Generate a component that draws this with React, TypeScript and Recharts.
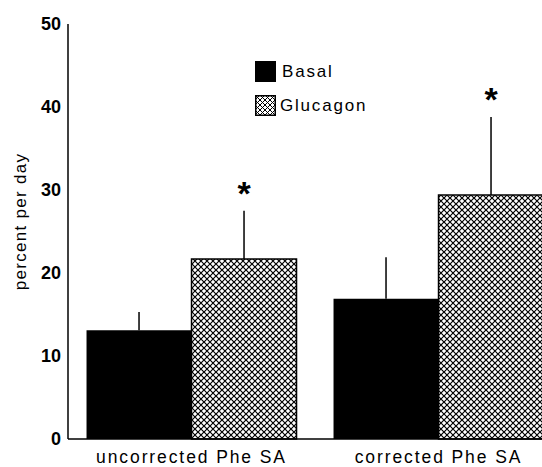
import { Bar, BarChart, ErrorBar, LabelList, XAxis, YAxis } from "recharts";

const categories = ["uncorrected Phe SA", "corrected Phe SA"];
const basal = [13.1, 16.9];
const basalErr = [2.2, 5.0];
const glucagon = [21.7, 29.4];
const glucagonErr = [5.8, 9.4];
const significant = ["*", "*"];
const yTicks = [0, 10, 20, 30, 40, 50];

const data = categories.map((name, i) => ({
  name,
  basal: basal[i],
  basalErr: [0, basalErr[i]],
  glucagon: glucagon[i],
  glucagonErr: [0, glucagonErr[i]],
  glucagonUp: glucagonErr[i],
  sig: significant[i],
}));

const font = '"Liberation Sans", Arial, Helvetica, sans-serif';

function Asterisk(props: any) {
  const { x, y, width, height, index } = props;
  const d = data[index];
  const pxPerUnit = height / d.glucagon;
  const top = y - d.glucagonUp * pxPerUnit;
  return (
    <text
      x={x + width / 2}
      y={top - 6}
      textAnchor="middle"
      fontSize={34}
      fontWeight="bold"
      fontFamily={font}
      fill="#000"
    >
      {d.sig}
    </text>
  );
}

export default function App() {
  return (
    <div
      style={{
        position: "fixed",
        left: 0,
        top: 0,
        width: 542,
        height: 467,
        overflow: "hidden",
        background: "#fff",
        fontFamily: font,
      }}
    >
      <BarChart
        width={600}
        height={467}
        data={data}
        margin={{ top: 24, right: 38, left: 0, bottom: 0 }}
        barCategoryGap="7.5%"
        barGap={0}
      >
        <defs>
          <pattern id="xhatch" patternUnits="userSpaceOnUse" width={6} height={6}>
            <rect width={6} height={6} fill="#fff" />
            <path d="M0,0 L6,6 M0,6 L6,0" stroke="#000" strokeWidth={1.2} />
          </pattern>
        </defs>
        <XAxis
          dataKey="name"
          height={28}
          axisLine={{ stroke: "#000", strokeWidth: 1.5 }}
          tickLine={false}
          tickSize={0}
          tickMargin={12}
          tick={{ fontSize: 17.5, fill: "#000", fontFamily: font, letterSpacing: 1.9 }}
        />
        <YAxis
          width={68}
          domain={[0, 50]}
          ticks={yTicks}
          axisLine={{ stroke: "#000", strokeWidth: 1.5 }}
          tickLine={false}
          tickSize={0}
          tickMargin={7}
          tick={{ fontSize: 18, fill: "#000", fontFamily: font, fontWeight: 600 }}
          label={{
            value: "percent per day",
            angle: -90,
            position: "insideLeft",
            offset: 20,
            dy: -10,
            style: { fontSize: 17, fill: "#000", fontFamily: font, textAnchor: "middle", letterSpacing: 1.3 },
          }}
        />
        <Bar dataKey="basal" fill="#000" isAnimationActive={false}>
          <ErrorBar dataKey="basalErr" width={0} stroke="#000" strokeWidth={1.5} direction="y" />
        </Bar>
        <Bar
          dataKey="glucagon"
          fill="url(#xhatch)"
          stroke="#000"
          strokeWidth={1.5}
          isAnimationActive={false}
        >
          <ErrorBar dataKey="glucagonErr" width={0} stroke="#000" strokeWidth={1.5} direction="y" />
          <LabelList dataKey="sig" content={Asterisk} />
        </Bar>
      </BarChart>
      <div style={{ position: "absolute", left: 255, top: 61, fontSize: 17, color: "#000", letterSpacing: 1.8 }}>
        <div style={{ display: "flex", alignItems: "center", height: 21, marginBottom: 13 }}>
          <span style={{ width: 21, height: 21, background: "#000", display: "inline-block", marginRight: 6 }} />
          Basal
        </div>
        <div style={{ display: "flex", alignItems: "center", height: 21 }}>
          <svg width={21} height={21} style={{ marginRight: 4 }}>
            <defs>
              <pattern id="xhatchLeg" patternUnits="userSpaceOnUse" width={5} height={5}>
                <rect width={5} height={5} fill="#fff" />
                <path d="M0,0 L5,5 M0,5 L5,0" stroke="#000" strokeWidth={1} />
              </pattern>
            </defs>
            <rect x={0.75} y={0.75} width={19.5} height={19.5} fill="url(#xhatchLeg)" stroke="#000" strokeWidth={1.5} />
          </svg>
          Glucagon
        </div>
      </div>
    </div>
  );
}
